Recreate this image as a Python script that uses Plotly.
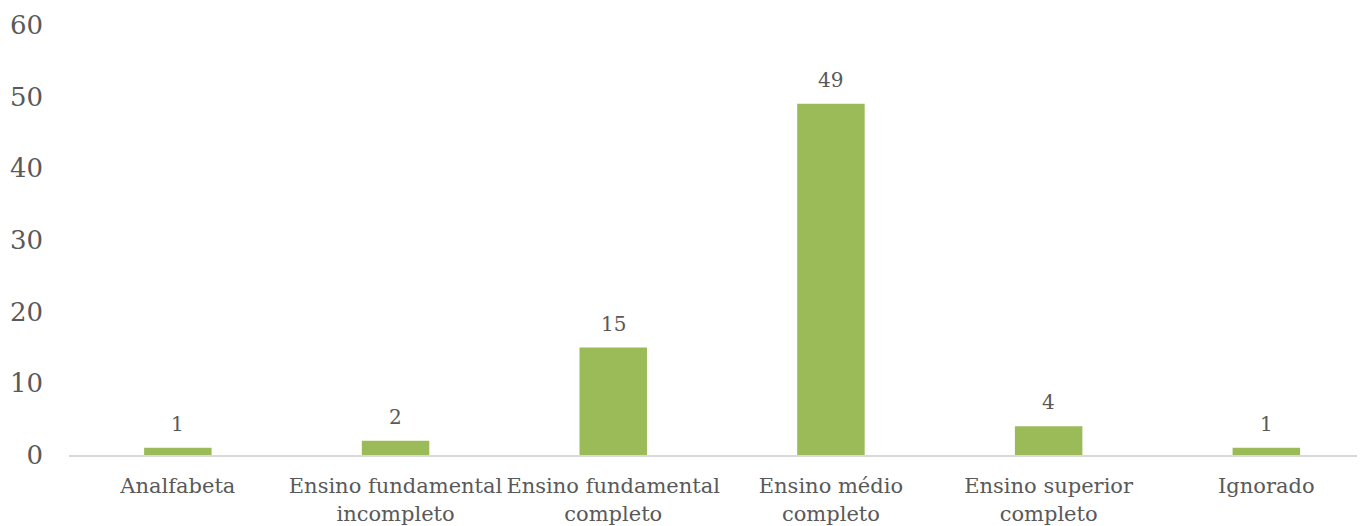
import plotly.graph_objects as go

categories = ["Analfabeta", "Ensino fundamental<br>incompleto", "Ensino fundamental<br>completo",
              "Ensino médio<br>completo", "Ensino superior<br>completo", "Ignorado"]
values = [1, 2, 15, 49, 4, 1]
y_ticks = [0, 10, 20, 30, 40, 50, 60]

FONT = "DejaVu Serif"
GRAY = "#595959"

fig = go.Figure()
fig.add_trace(go.Bar(x=categories, y=values, width=0.31, marker=dict(color="#9BBB59", line=dict(width=0)),
                     hoverinfo="x+y"))

for c, v in zip(categories, values):
    fig.add_annotation(x=c, y=v, text=str(v), showarrow=False, yanchor="bottom", yshift=10,
                       font=dict(family=FONT, size=20, color=GRAY))

fig.update_layout(
    width=1365, height=526,
    margin=dict(l=61, r=0, t=17, b=79),
    plot_bgcolor="white", paper_bgcolor="white",
    showlegend=False,
    font=dict(family=FONT, color=GRAY),
    xaxis=dict(range=[-0.5, 5.49], showgrid=False, showline=True, linecolor="#D9D9D9", linewidth=2,
               ticks="", tickfont=dict(family=FONT, size=21, color=GRAY), ticklabelstandoff=11,
               zeroline=False, fixedrange=True, automargin=False),
    yaxis=dict(range=[0, 60], tickvals=y_ticks, showgrid=False, showline=False, zeroline=False,
               ticks="", tickfont=dict(family=FONT, size=26, color=GRAY), ticklabelstandoff=25,
               fixedrange=True, automargin=False),
)

fig.write_html("out.html")
